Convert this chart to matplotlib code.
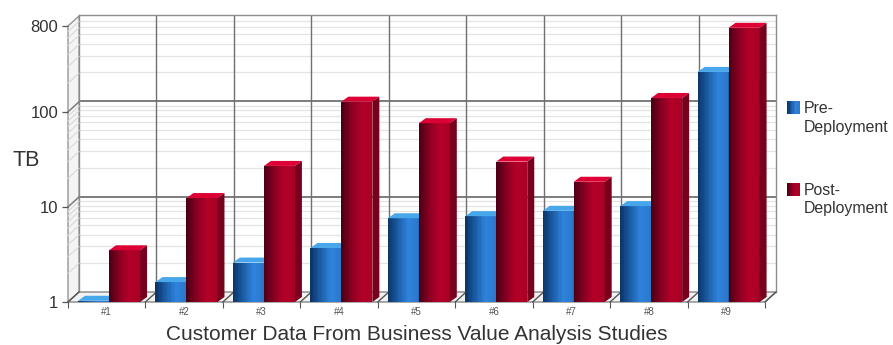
import numpy as np
import matplotlib
matplotlib.use("Agg")
import matplotlib.pyplot as plt
from matplotlib.patches import Polygon, Rectangle
from matplotlib.colors import LinearSegmentedColormap
from matplotlib.legend_handler import HandlerBase
from matplotlib.transforms import IdentityTransform

categories = ["#1", "#2", "#3", "#4", "#5", "#6", "#7", "#8", "#9"]
pre_deployment = [1.03, 1.62, 2.6, 3.7, 7.6, 8.0, 9.1, 10.2, 263]
post_deployment = [3.5, 12.4, 27, 128, 76, 30, 18.4, 140, 766]
y_ticks = [1, 10, 100, 800]
y_tick_labels = ["1", "10", "100", "800"]
series_labels = ["Pre-\nDeployment", "Post-\nDeployment"]

W, H = 893, 345
plt.rcParams["font.family"] = ["Liberation Sans", "DejaVu Sans"]
fig = plt.figure(figsize=(W / 100, H / 100), dpi=100, facecolor="white")

def rect(l, t, r, b):
    return [l / W, (H - b) / H, (r - l) / W, (b - t) / H]

DX, DY = 11, 10          # wall depth in pixels
BX, BY = 7, 5            # bar depth in pixels
YMIN, YMAX = 1, 800

back = fig.add_axes(rect(79, 15, 776, 292), zorder=1)
ax = fig.add_axes(rect(68, 26, 765, 302), zorder=2)
ax.patch.set_alpha(0)
for a in (ax, back):
    a.set_yscale("log")
    a.set_ylim(YMIN, YMAX)
    a.set_xlim(-0.5, len(categories) - 0.5)

# back wall
minor_vals = [m * 10 ** d for d in range(3) for m in range(2, 10) if m * 10 ** d < YMAX]
back.set_xticks([])
back.set_yticks([])
back.minorticks_off()
for v in minor_vals:
    back.axhline(v, color="#e4e4e4", lw=0.9, zorder=1)
for v in [10, 100]:
    back.axhline(v, color="#7c7c7c", lw=1.4, zorder=2)
for b in np.arange(0.5, len(categories) - 1):
    back.axvline(b, color="#707070", lw=1.0, zorder=2)
for s in back.spines.values():
    s.set_color("#8c8c8c")
    s.set_linewidth(1.0)
back.spines["bottom"].set_visible(False)

def px(x, v, dx=0, dy=0):
    p = ax.transData.transform((x, v))
    return (p[0] + dx, p[1] + dy)

def poly(points, **kw):
    kw.setdefault("lw", 0)
    ax.add_patch(Polygon(points, closed=True, transform=IdentityTransform(),
                         clip_on=False, **kw))

x0, x1 = -0.5, len(categories) - 0.5
# left wall
poly([px(x0, YMIN), px(x0, YMIN, DX, DY), px(x0, YMAX, DX, DY), px(x0, YMAX)],
     facecolor="#f4f4f4", edgecolor="#8a8a8a", zorder=0.5)
ax.patches[-1].set_linewidth(0.9)
for v in minor_vals + [10, 100]:
    c, lw = ("#7c7c7c", 1.1) if v in (10, 100) else ("#d8d8d8", 0.8)
    a, b = px(x0, v), px(x0, v, DX, DY)
    ax.plot([a[0], b[0]], [a[1], b[1]], color=c, lw=lw, transform=IdentityTransform(),
            clip_on=False, zorder=0.6)
# floor
poly([px(x0, YMIN), px(x1, YMIN), px(x1, YMIN, DX, DY), px(x0, YMIN, DX, DY)],
     facecolor="#f2f2f2", edgecolor="#7a7a7a", zorder=0.5)
ax.patches[-1].set_linewidth(0.9)
for b in np.arange(-0.5, len(categories)):
    p, q = px(b, YMIN), px(b, YMIN, DX, DY)
    ax.plot([p[0], q[0]], [p[1], q[1]], color="#555555", lw=1.0,
            transform=IdentityTransform(), clip_on=False, zorder=0.7)

blue_cmap = LinearSegmentedColormap.from_list("b", ["#0c3568", "#1c5ea8", "#2f83dc", "#2a78cc"])
red_cmap = LinearSegmentedColormap.from_list("r", ["#4c0016", "#8a0022", "#b40028", "#aa0026"])
BLUE_TOP, BLUE_SIDE = "#48a6ea", "#123f78"
RED_TOP, RED_SIDE = "#dc0034", "#78001c"

def bar3d(xc, v, width, cmap, top, side, z):
    n = 24
    edges = np.linspace(xc - width / 2, xc + width / 2, n + 1)
    ax.bar((edges[:-1] + edges[1:]) / 2, [v - YMIN] * n, width=(edges[1] - edges[0]) * 1.08,
           bottom=YMIN, color=cmap(np.linspace(0, 1, n)), lw=0, zorder=z)
    l, r = xc - width / 2, xc + width / 2
    poly([px(r, YMIN), px(r, YMIN, BX, BY), px(r, v, BX, BY), px(r, v)], facecolor=side, zorder=z)
    poly([px(l, v), px(r, v), px(r, v, BX, BY), px(l, v, BX, BY)], facecolor=top, zorder=z)

W_BAR, OFF = 0.4, 0.03
for i, (a, b) in enumerate(zip(pre_deployment, post_deployment)):
    bar3d(i + OFF - W_BAR / 2, a, W_BAR, blue_cmap, BLUE_TOP, BLUE_SIDE, 3)
    bar3d(i + OFF + W_BAR / 2, b, W_BAR, red_cmap, RED_TOP, RED_SIDE, 4)

# axes furniture
for s in ax.spines.values():
    s.set_visible(False)
ax.set_yticks(y_ticks)
ax.set_yticklabels(y_tick_labels, fontsize=12, color="#333333")
ax.minorticks_off()
ax.tick_params(axis="y", length=4, width=0.9, color="#555555", pad=3)
ax.set_xticks(np.arange(-0.5, len(categories)), labels=[""] * (len(categories) + 1))
ax.tick_params(axis="x", length=4, width=0.8, color="#555555")
for i, c in enumerate(categories):
    ax.annotate(c, (i, YMIN), xytext=(0, -10), textcoords="offset pixels", ha="center", va="center",
                fontsize=7, color="#555555", annotation_clip=False)

fig.text(417 / W, 1 - 334.5 / H, "Customer Data From Business Value Analysis Studies",
         ha="center", va="center", fontsize=15, color="#333333")
fig.text(26 / W, 1 - 160 / H, "TB", ha="center", va="center", fontsize=15.5, color="#333333")

class GradHandler(HandlerBase):
    def __init__(self, cmap):
        super().__init__()
        self.cmap = cmap
    def create_artists(self, legend, orig, xd, yd, w, h, fs, trans):
        n = 10
        arts = []
        s = 13 * 0.72
        for k in range(n):
            arts.append(Rectangle((k * s / n, h - s + 8.6), s / n * 1.1, s, facecolor=self.cmap(k / (n - 1)),
                                  lw=0, transform=trans))
        return arts

h1 = Rectangle((0, 0), 1, 1, label=series_labels[0])
h2 = Rectangle((0, 0), 1, 1, label=series_labels[1])
leg = fig.legend(handles=[h1, h2], labels=series_labels, frameon=False, fontsize=11.4,
           loc="upper left", bbox_to_anchor=(787 / W, 1 - 101 / H), bbox_transform=fig.transFigure,
           borderaxespad=0, borderpad=0, handlelength=0.72, handletextpad=0.36, labelspacing=3.05,
           labelcolor="#333333",
           handler_map={h1: GradHandler(blue_cmap), h2: GradHandler(red_cmap)})
for t in leg.get_texts():
    t.set_linespacing(1.3)

fig.savefig("out.png", dpi=100, facecolor="white")
